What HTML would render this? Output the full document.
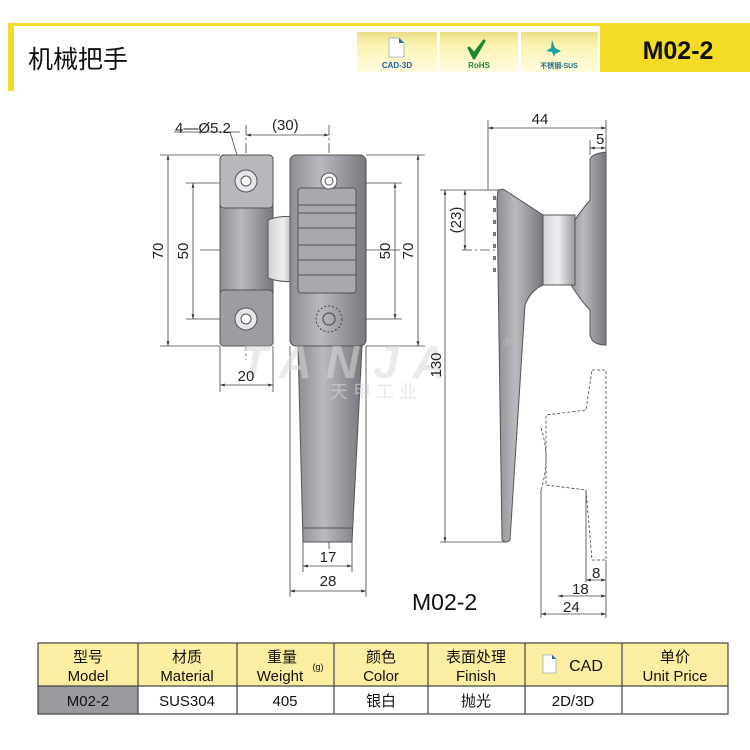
<!DOCTYPE html>
<html><head><meta charset="utf-8"><style>
body{margin:0;background:#fff;width:750px;height:750px;overflow:hidden}
svg{display:block}
text{font-family:"Liberation Sans","Noto Sans CJK SC",sans-serif}
</style></head><body>
<svg width="750" height="750" viewBox="0 0 750 750" xmlns="http://www.w3.org/2000/svg">
<defs>
<linearGradient id="g1" x1="0" x2="1"><stop offset="0" stop-color="#8d8d94"/><stop offset=".4" stop-color="#b9b9bf"/><stop offset="1" stop-color="#77777e"/></linearGradient>
<linearGradient id="g2" x1="0" x2="1"><stop offset="0" stop-color="#d0d0d4"/><stop offset=".5" stop-color="#f0f0f2"/><stop offset="1" stop-color="#9a9aa0"/></linearGradient>
<linearGradient id="bd" x1="0" y1="0" x2="0" y2="1"><stop offset="0" stop-color="#e9dd86"/><stop offset=".3" stop-color="#fbf3b0"/><stop offset="1" stop-color="#fffbe0"/></linearGradient>
<marker id="a" viewBox="0 0 10 10" refX="10" refY="5" markerWidth="6" markerHeight="6" orient="auto-start-reverse"><path d="M0,2L10,5L0,8z" fill="#333"/></marker>
</defs>
<rect x="8" y="23" width="742" height="3" fill="#f2dc2a"/>
<rect x="8" y="23" width="6" height="68" fill="#f2dc2a"/>
<text x="28" y="68" font-size="25" fill="#111">机械把手</text>
<rect x="357" y="32" width="80" height="40" fill="url(#bd)"/>
<rect x="440" y="32" width="78" height="40" fill="url(#bd)"/>
<rect x="521" y="32" width="77" height="40" fill="url(#bd)"/>
<path d="M389,38h10l5,5v14h-15z" fill="#fff" stroke="#9ab" stroke-width=".8"/><path d="M399,38l5,5h-5z" fill="#1e6aa8"/>
<text x="397" y="68" font-size="8" font-weight="bold" fill="#1e5fa0" text-anchor="middle">CAD-3D</text>
<path d="M469,48l5,6l10,-13l-10,17z" fill="#1a8a2a" stroke="#1a8a2a" stroke-width="3" stroke-linejoin="round"/>
<text x="479" y="68" font-size="8" font-weight="bold" fill="#1e8a2a" text-anchor="middle">RoHS</text>
<path d="M552,40l3,8l6,3l-6,3l-1,3l-2,-5l-6,-1l5,-3z" fill="#1aa0a0"/>
<text x="559" y="68" font-size="7" font-weight="bold" fill="#1e6a80" text-anchor="middle">不锈钢-SUS</text>
<rect x="600" y="26" width="150" height="46" fill="#f4dc26"/>
<text x="678" y="59" font-size="25" font-weight="bold" fill="#111" text-anchor="middle">M02-2</text>

<g stroke="#444" stroke-width="0.8" fill="none">
<line x1="160" y1="155" x2="220" y2="155"/><line x1="160" y1="346" x2="220" y2="346"/>
<line x1="168" y1="155" x2="168" y2="346" marker-start="url(#a)" marker-end="url(#a)"/>
<line x1="186" y1="183" x2="246" y2="183"/><line x1="186" y1="319" x2="246" y2="319"/>
<line x1="193" y1="183" x2="193" y2="319" marker-start="url(#a)" marker-end="url(#a)"/>
<line x1="220" y1="346" x2="220" y2="392"/><line x1="273" y1="346" x2="273" y2="392"/>
<line x1="220" y1="385" x2="273" y2="385" marker-start="url(#a)" marker-end="url(#a)"/>
<line x1="246" y1="125" x2="246" y2="360" stroke-dasharray="10,3,2,3"/>
<line x1="329" y1="125" x2="329" y2="550" stroke-dasharray="10,3,2,3"/>
<line x1="246" y1="135" x2="329" y2="135" marker-start="url(#a)" marker-end="url(#a)"/>
<line x1="174" y1="132" x2="240" y2="132"/><line x1="230" y1="132" x2="244" y2="178"/>
<line x1="330" y1="183" x2="402" y2="183"/><line x1="330" y1="319" x2="402" y2="319"/>
<line x1="395" y1="183" x2="395" y2="319" marker-start="url(#a)" marker-end="url(#a)"/>
<line x1="366" y1="155" x2="425" y2="155"/><line x1="366" y1="346" x2="425" y2="346"/>
<line x1="418" y1="155" x2="418" y2="346" marker-start="url(#a)" marker-end="url(#a)"/>
<line x1="200" y1="250" x2="400" y2="250"/>
<line x1="303" y1="542" x2="303" y2="572"/><line x1="352" y1="542" x2="352" y2="572"/>
<line x1="303" y1="566" x2="352" y2="566" marker-start="url(#a)" marker-end="url(#a)"/>
<line x1="290" y1="346" x2="290" y2="597"/><line x1="366" y1="346" x2="366" y2="597"/>
<line x1="290" y1="591" x2="366" y2="591" marker-start="url(#a)" marker-end="url(#a)"/>
</g>
<rect x="220" y="155" width="53" height="191" rx="4" fill="url(#g1)" stroke="#555"/>
<rect x="220" y="155" width="53" height="53" rx="4" fill="#b8b8bc" stroke="#555"/>
<rect x="220" y="290" width="53" height="56" rx="4" fill="#9c9ca2" stroke="#555"/>
<circle cx="246" cy="181" r="11" fill="#e6e6ea" stroke="#555"/><circle cx="246" cy="181" r="5" fill="#fff" stroke="#555"/>
<circle cx="246" cy="319" r="11" fill="#e6e6ea" stroke="#555"/><circle cx="246" cy="319" r="5" fill="#fff" stroke="#555"/>
<path d="M268,220q12,-5 30,-3v64q-18,2 -30,-3z" fill="url(#g2)" stroke="#555"/>
<path d="M298,346h64l-10,196h-49z" fill="url(#g1)" stroke="#555"/>
<line x1="303" y1="528" x2="352" y2="528" stroke="#555"/>
<rect x="290" y="155" width="76" height="191" rx="6" fill="url(#g1)" stroke="#555"/>
<rect x="298" y="188" width="58" height="105" rx="3" fill="#a8a8ae" stroke="#555"/>
<g stroke="#555" stroke-width="1">
<line x1="298" y1="205" x2="356" y2="205"/><line x1="298" y1="213" x2="356" y2="213"/>
<line x1="298" y1="228" x2="356" y2="228"/><line x1="298" y1="245" x2="356" y2="245"/>
<line x1="298" y1="260" x2="356" y2="260"/><line x1="298" y1="275" x2="356" y2="275"/>
</g>
<circle cx="329" cy="181" r="8" fill="#fff" stroke="#555"/><circle cx="329" cy="181" r="4" fill="#fff" stroke="#555"/>
<circle cx="329" cy="319" r="13" fill="none" stroke="#444" stroke-dasharray="2,2"/><circle cx="329" cy="319" r="6" fill="none" stroke="#444"/>

<text x="240" y="378" font-size="46" font-style="italic" font-weight="bold" fill="#d8d8d8" fill-opacity=".55" letter-spacing="14">TANJA</text>
<text x="330" y="398" font-size="18" fill="#d8d8d8" fill-opacity=".6" letter-spacing="5">天甲工业</text>

<g font-size="15" fill="#222">
<text x="175" y="133">4—Ø5.2</text>
<text x="272" y="130">(30)</text>
<text x="163" y="251" transform="rotate(-90 163 251)" text-anchor="middle">70</text>
<text x="188" y="251" transform="rotate(-90 188 251)" text-anchor="middle">50</text>
<text x="390" y="251" transform="rotate(-90 390 251)" text-anchor="middle">50</text>
<text x="413" y="251" transform="rotate(-90 413 251)" text-anchor="middle">70</text>
<text x="246" y="381" text-anchor="middle">20</text>
<text x="328" y="562" text-anchor="middle">17</text>
<text x="328" y="586" text-anchor="middle">28</text>
<text x="441" y="365" transform="rotate(-90 441 365)" text-anchor="middle">130</text>
<text x="461" y="220" transform="rotate(-90 461 220)" text-anchor="middle">(23)</text>
<text x="540" y="124" text-anchor="middle">44</text>
<text x="596" y="144">5</text>
<text x="592" y="578">8</text>
<text x="572" y="594">18</text>
<text x="563" y="612">24</text>
</g>
<g stroke="#444" stroke-width="0.8" fill="none">
<line x1="488" y1="120" x2="488" y2="190"/><line x1="606" y1="120" x2="606" y2="155"/>
<line x1="488" y1="128" x2="606" y2="128" marker-start="url(#a)" marker-end="url(#a)"/>
<line x1="590" y1="140" x2="590" y2="155"/>
<line x1="590" y1="148" x2="606" y2="148" marker-start="url(#a)" marker-end="url(#a)"/>
<line x1="440" y1="190" x2="500" y2="190"/><line x1="440" y1="542" x2="505" y2="542"/>
<line x1="445" y1="190" x2="445" y2="542" marker-start="url(#a)" marker-end="url(#a)"/>
<line x1="465" y1="190" x2="465" y2="250" marker-start="url(#a)" marker-end="url(#a)"/>
<line x1="462" y1="250" x2="606" y2="250" stroke-dasharray="10,3,2,3"/>
<path d="M592,370h14v190h-14l-6,-70l-40,-5v-70l40,-5z" stroke-dasharray="3,2"/>
<path d="M541,428q10,30 0,62" stroke-dasharray="3,2"/>
<line x1="586" y1="490" x2="586" y2="582"/><line x1="541" y1="490" x2="541" y2="618"/>
<line x1="606" y1="560" x2="606" y2="618"/>
<line x1="586" y1="580" x2="606" y2="580" marker-start="url(#a)" marker-end="url(#a)"/>
<line x1="558" y1="596" x2="606" y2="596" marker-start="url(#a)" marker-end="url(#a)"/>
<line x1="541" y1="614" x2="606" y2="614" marker-start="url(#a)" marker-end="url(#a)"/>
</g>
<path d="M590,160q0,-6 16,-8v193q-14,0 -16,-10v-25q-10,-10 -22,-30v-50q12,-18 22,-30z" fill="url(#g1)" stroke="#555"/>
<path d="M541,215h34v70h-34z" fill="url(#g2)" stroke="#555"/>
<path d="M498,190l5,-1l40,26v70q-12,5 -18,20l-15,235q-4,4 -8,0l-5,-340z" fill="url(#g1)" stroke="#555"/>
<g fill="#777"><rect x="493" y="196" width="3" height="4"/><rect x="493" y="208" width="3" height="4"/><rect x="493" y="220" width="3" height="4"/><rect x="493" y="232" width="3" height="4"/><rect x="493" y="244" width="3" height="4"/><rect x="493" y="256" width="3" height="4"/><rect x="493" y="268" width="3" height="4"/></g>
<text x="503" y="346" font-size="11" fill="#bbb">®</text>
<text x="412" y="610" font-size="23" fill="#111">M02-2</text>

<rect x="38" y="643" width="690" height="43" fill="#fbeea0"/>
<rect x="38" y="686" width="100" height="28" fill="#9b9b9f"/>
<g stroke="#444" stroke-width="1.2" fill="none">
<rect x="38" y="643" width="690" height="71"/>
<line x1="38" y1="686" x2="728" y2="686"/>
<line x1="138" y1="643" x2="138" y2="714"/><line x1="237" y1="643" x2="237" y2="714"/>
<line x1="334" y1="643" x2="334" y2="714"/><line x1="428" y1="643" x2="428" y2="714"/>
<line x1="525" y1="643" x2="525" y2="714"/><line x1="622" y1="643" x2="622" y2="714"/>
</g>
<g font-size="15" fill="#111" text-anchor="middle">
<text x="88" y="662">型号</text><text x="88" y="681">Model</text>
<text x="187" y="662">材质</text><text x="187" y="681">Material</text>
<text x="282" y="662">重量</text><text x="280" y="681">Weight</text><text x="318" y="670" font-size="9">(g)</text>
<text x="381" y="662">颜色</text><text x="381" y="681">Color</text>
<text x="476" y="662">表面处理</text><text x="476" y="681">Finish</text>
<text x="586" y="671" font-size="16">CAD</text>
<text x="675" y="662">单价</text><text x="675" y="681">Unit Price</text>
<text x="88" y="706">M02-2</text><text x="187" y="706">SUS304</text><text x="285" y="706">405</text>
<text x="381" y="706">银白</text><text x="476" y="706">抛光</text><text x="573" y="706">2D/3D</text>
</g>
<path d="M543,655h9l4,4v14h-13z" fill="#fff" stroke="#9ab" stroke-width=".8"/><path d="M552,655l4,4h-4z" fill="#1e6aa8"/>
</svg>
</body></html>
